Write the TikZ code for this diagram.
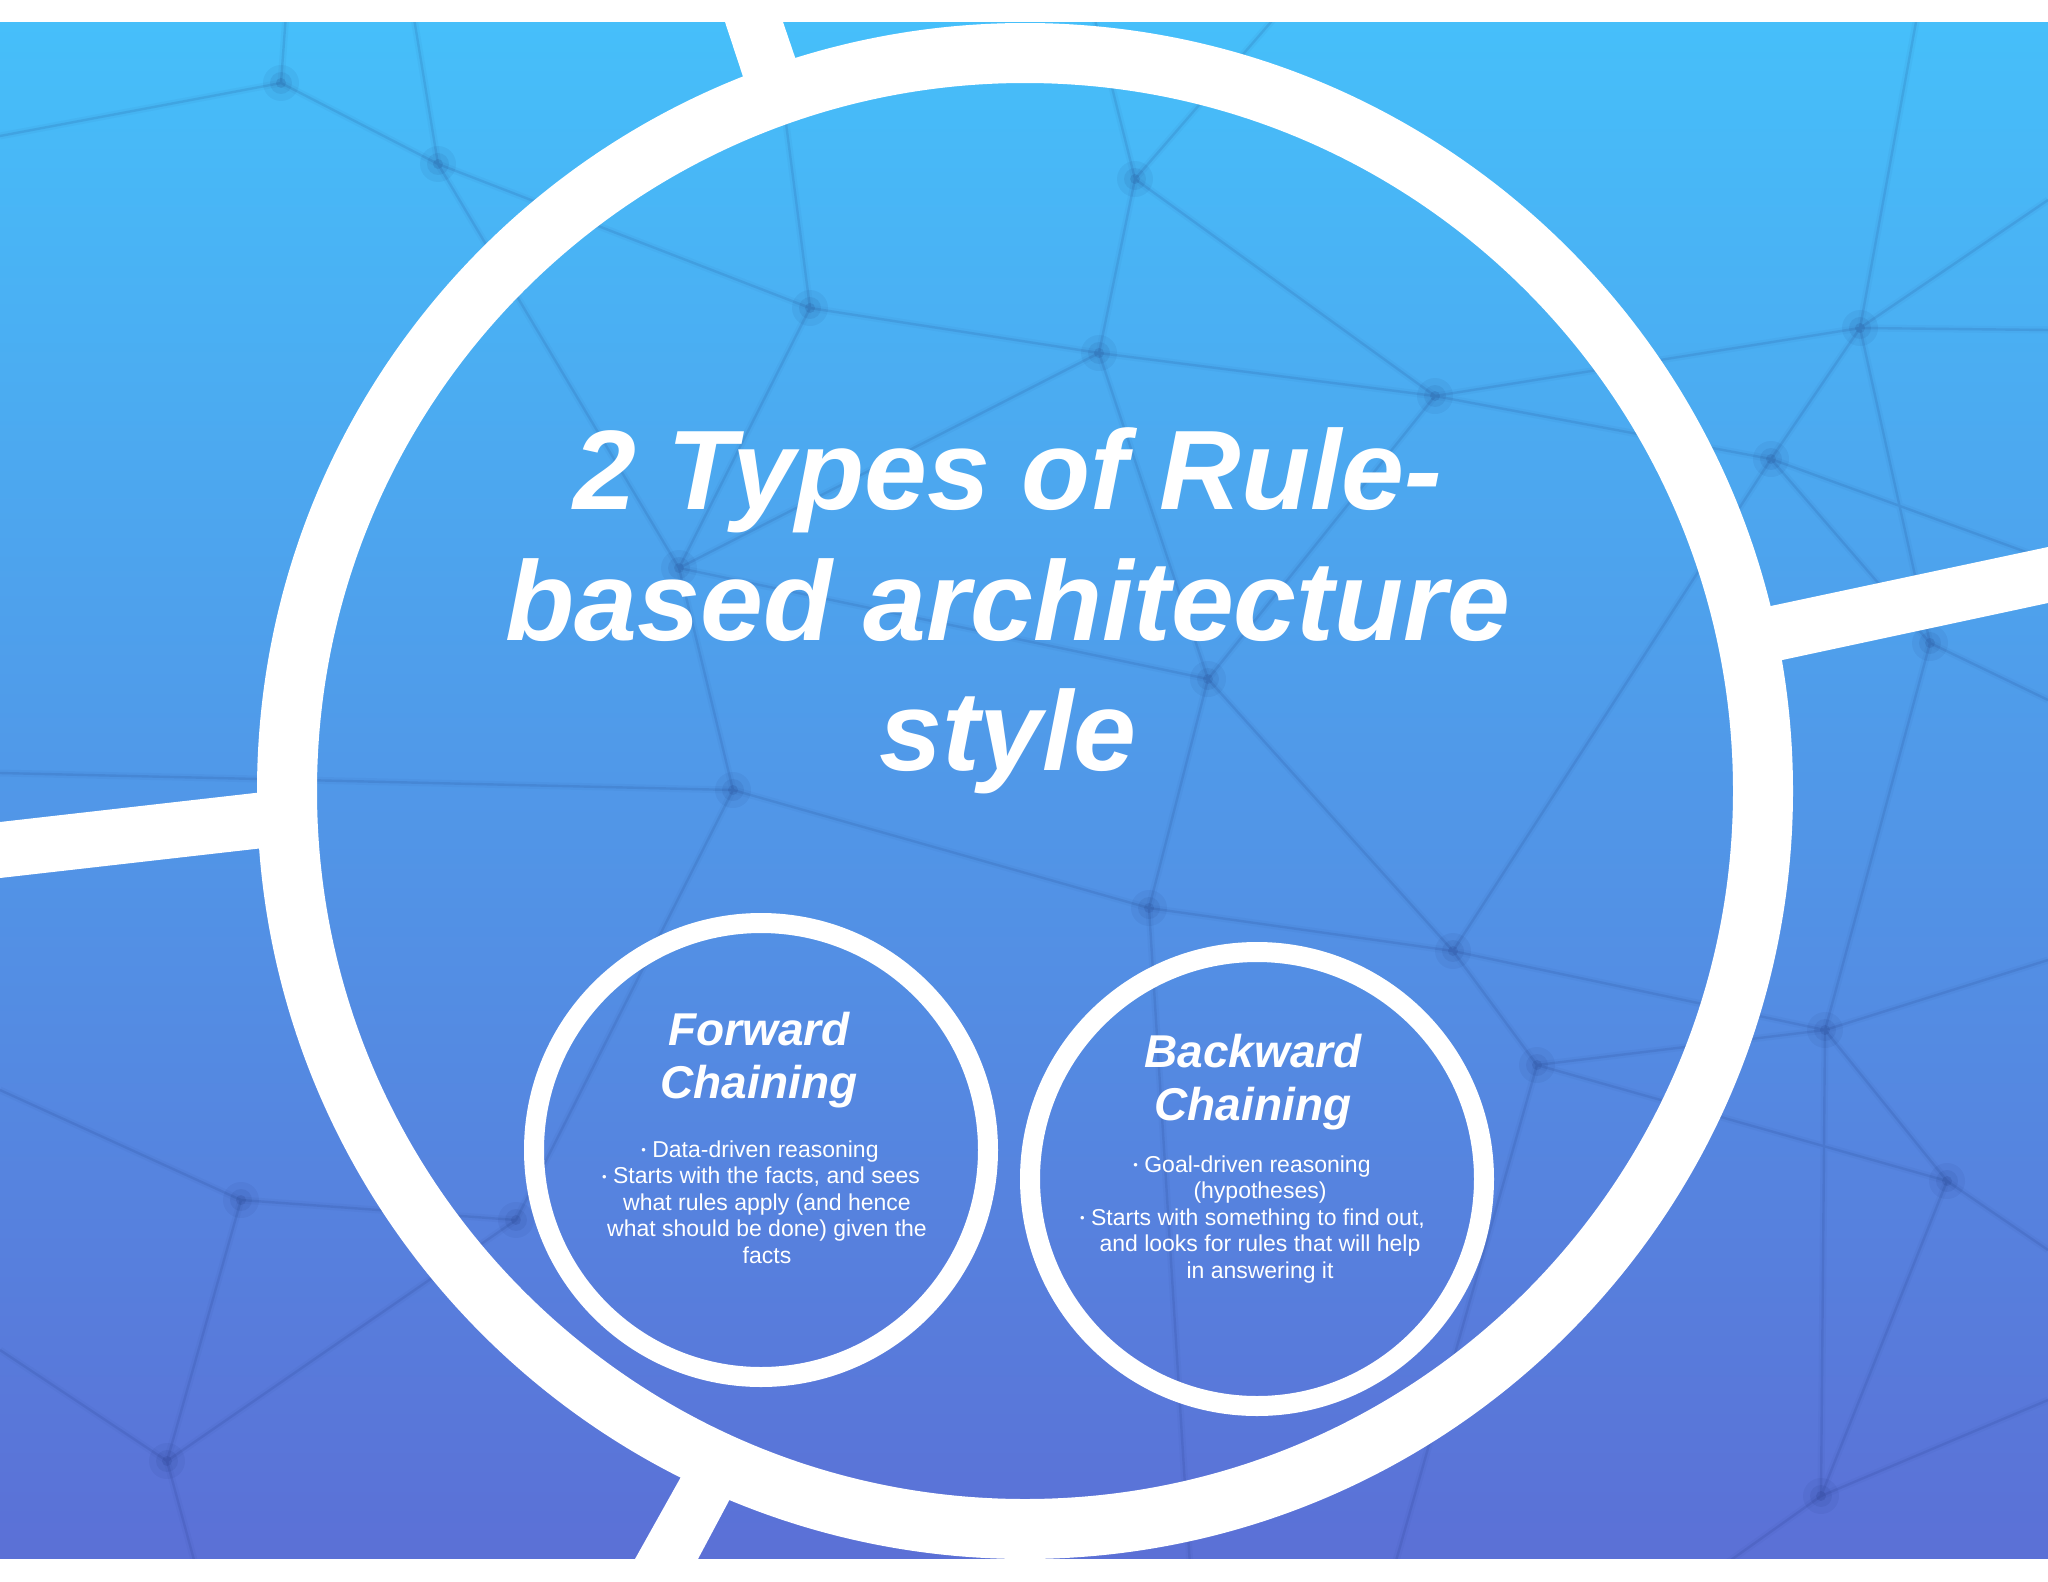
\documentclass[tikz,border=0pt]{standalone}
\usepackage{fontspec}
\setmainfont{Liberation Sans}
\definecolor{bgtop}{RGB}{70,191,250}
\definecolor{bgmid}{RGB}{79,152,230}
\definecolor{bgbot}{RGB}{91,112,214}
\definecolor{netc}{RGB}{18,38,105}
\newcommand\mybullet{{\fontsize{13}{13}\selectfont\raisebox{2.5pt}{•}}\ }
\begin{document}
\begin{tikzpicture}[x=1pt,y=-1pt,
  netline/.style={draw=netc,opacity=0.11,line width=2.4pt},
  nethalo/.style={draw=netc,opacity=0.035,line width=7pt},
  bar/.style={fill=white},
  bigring/.style={draw=white,line width=60pt},
  chainring/.style={circle,draw=white,line width=20pt,inner sep=0pt,minimum size=454pt},
  titletext/.style={text=white,anchor=base,inner sep=0pt,font=\fontsize{113}{130}\selectfont\bfseries\itshape},
  headtext/.style={text=white,anchor=base,inner sep=0pt,font=\fontsize{46}{53}\selectfont\bfseries\itshape},
  bodytext/.style={text=white,anchor=base,inner sep=0pt,font=\fontsize{23}{26.5}\selectfont}]
\useasboundingbox (0,0) rectangle (2048,1582);
\fill[white] (0,0) rectangle (2048,1582);
\shade[top color=bgtop,middle color=bgmid,bottom color=bgbot] (0,22) rectangle (2048,1559);
% network texture
\begin{scope}
\clip (0,22) rectangle (2048,1559);
\coordinate (n1) at (281,83);
\coordinate (n2) at (438,164);
\coordinate (n3) at (810,308);
\coordinate (n4) at (679,568);
\coordinate (n5) at (733,790);
\coordinate (n6) at (1135,179);
\coordinate (n7) at (1099,353);
\coordinate (n8) at (1435,396);
\coordinate (n9) at (1860,328);
\coordinate (n10) at (1771,459);
\coordinate (n11) at (1208,679);
\coordinate (n12) at (1930,643);
\coordinate (n13) at (1149,908);
\coordinate (n14) at (1453,951);
\coordinate (n15) at (1537,1065);
\coordinate (n16) at (1825,1030);
\coordinate (n17) at (1947,1181);
\coordinate (n18) at (1821,1496);
\coordinate (n19) at (241,1200);
\coordinate (n20) at (167,1461);
\coordinate (n21) at (516,1220);
\coordinate (e1) at (287,0);
\coordinate (e2) at (0,136);
\coordinate (e3) at (411,0);
\coordinate (e4) at (770,0);
\coordinate (e6) at (1090,0);
\coordinate (e7) at (1290,0);
\coordinate (e8) at (1920,0);
\coordinate (e9) at (2048,200);
\coordinate (e10) at (2048,330);
\coordinate (e11) at (2048,560);
\coordinate (e12) at (2048,700);
\coordinate (e13) at (2048,960);
\coordinate (e14) at (2048,1250);
\coordinate (e15) at (1700,1582);
\coordinate (e16) at (2048,1400);
\coordinate (e17) at (0,1090);
\coordinate (e18) at (0,1350);
\coordinate (e19) at (200,1582);
\coordinate (e20) at (0,773);
\coordinate (e22) at (1390,1582);
\coordinate (e23) at (1191,1582);
\foreach \s in {nethalo,netline}{
\path[\s] (n1)--(n2) (n1)--(e1) (n1)--(e2)
  (n2)--(n3) (n2)--(n4) (n2)--(e3)
  (n3)--(n4) (n3)--(n7) (n3)--(e4)
  (n4)--(n5) (n4)--(n7) (n4)--(n11)
  (n5)--(n13) (n5)--(n21) (n5)--(e20)
  (n6)--(n7) (n6)--(n8) (n6)--(e6) (n6)--(e7)
  (n7)--(n8) (n7)--(n11)
  (n8)--(n9) (n8)--(n10) (n8)--(n11)
  (n9)--(n10) (n9)--(n12) (n9)--(e8) (n9)--(e9) (n9)--(e10)
  (n10)--(n12) (n10)--(e11) (n10)--(n14)
  (n11)--(n13) (n11)--(n14)
  (n12)--(e12) (n12)--(n16)
  (n13)--(n14) (n13)--(e23)
  (n14)--(n15) (n14)--(n16)
  (n15)--(n16) (n15)--(n17) (n15)--(e22)
  (n16)--(n17) (n16)--(n18) (n16)--(e13)
  (n17)--(e14) (n17)--(n18)
  (n18)--(e15) (n18)--(e16)
  (n19)--(n20) (n19)--(n21) (n19)--(e17)
  (n20)--(e18) (n20)--(e19) (n21)--(n20);
}
\foreach \n in {n1,n2,n3,n4,n5,n6,n7,n8,n9,n10,n11,n12,n13,n14,n15,n16,n17,n18,n19,n20,n21}{
  \fill[netc,opacity=0.06] (\n) circle (18pt);
  \fill[netc,opacity=0.08] (\n) circle (11pt);
  \fill[netc,opacity=0.12] (\n) circle (5pt);
}
\end{scope}
% white bars
\fill[bar] (725,22) -- (783,22) -- (813,110) -- (754,110) -- cycle;
\fill[bar] (0,822) -- (290,789) -- (290,845) -- (0,878) -- cycle;
\fill[bar] (2048,547) -- (1745,611.5) -- (1745,668) -- (2048,603) -- cycle;
\fill[bar] (635,1559) -- (696,1450) -- (756,1450) -- (698,1559) -- cycle;
% big ring
\draw[bigring] (1025,791) circle (738pt);
% strips
\fill[white] (0,0) rectangle (2048,22);
\fill[white] (0,1559) rectangle (2048,1582);
% chaining circles
\node[chainring] (fwd) at (761,1150) {};
\node[chainring] (bwd) at (1257,1179) {};
% title
\node[titletext] (t1) at (1008,509) {2 Types of Rule-};
\node[titletext] (t2) at (1008,640) {based architecture};
\node[titletext] (t3) at (1008,770) {style};
% forward
\node[headtext] (fh1) at (759,1045) {Forward};
\node[headtext] (fh2) at (759,1098) {Chaining};
\node[bodytext] (fb1) at (760,1157) {\mybullet Data-driven reasoning};
\node[bodytext] (fb2) at (761,1183.5) {\mybullet Starts with the facts, and sees};
\node[bodytext] (fb3) at (767,1210) {what rules apply (and hence};
\node[bodytext] (fb4) at (767,1236.5) {what should be done) given the};
\node[bodytext] (fb5) at (767,1263) {facts};
% backward
\node[headtext] (bh1) at (1253,1067) {Backward};
\node[headtext] (bh2) at (1253,1120) {Chaining};
\node[bodytext] (bb1) at (1252,1172) {\mybullet Goal-driven reasoning};
\node[bodytext] (bb2) at (1260,1198.5) {(hypotheses)};
\node[bodytext] (bb3) at (1252.5,1225) {\mybullet Starts with something to find out,};
\node[bodytext] (bb4) at (1260,1251.5) {and looks for rules that will help};
\node[bodytext] (bb5) at (1260,1278) {in answering it};
\end{tikzpicture}
\end{document}
